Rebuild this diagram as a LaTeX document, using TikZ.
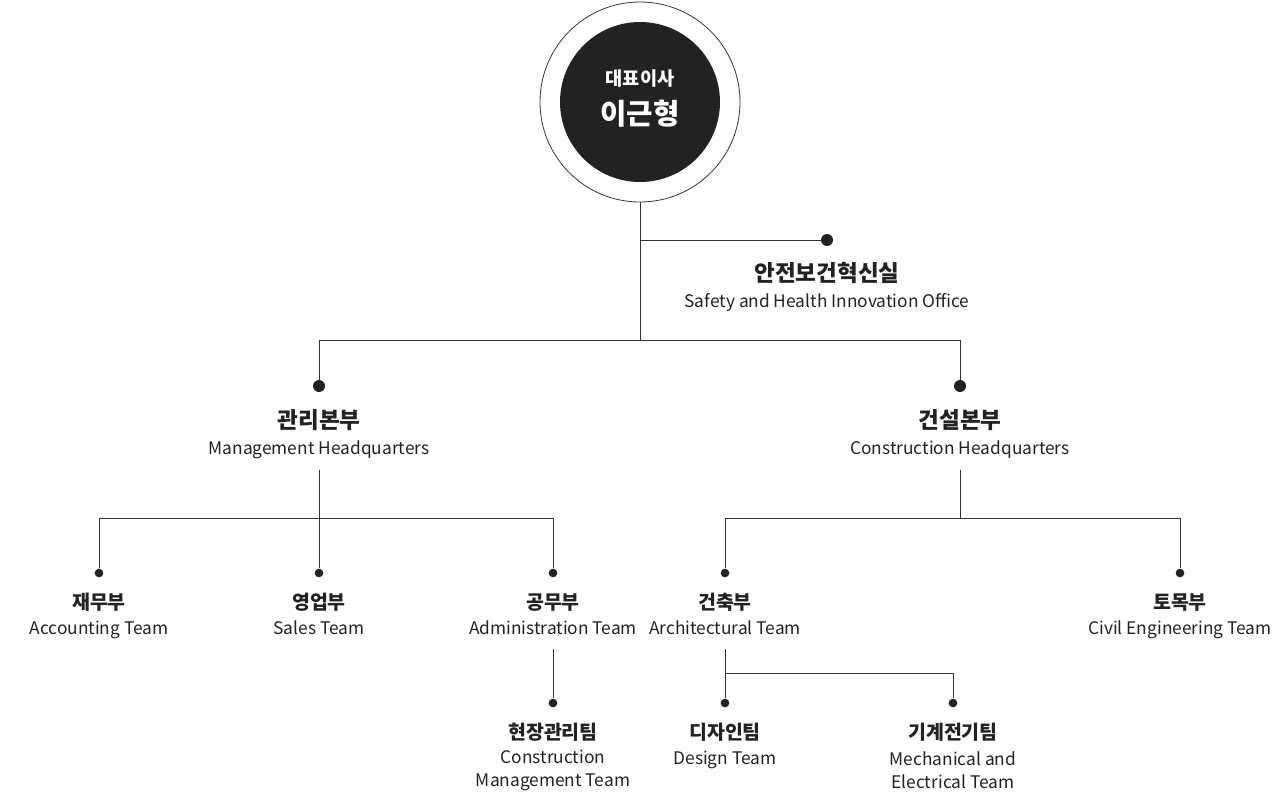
\documentclass[tikz,border=0pt]{standalone}
\usepackage{fontspec}
\setmainfont{Noto Sans CJK KR}
\usepackage{tikz}
\usetikzlibrary{positioning}

\definecolor{ink}{HTML}{222222}
\definecolor{wire}{HTML}{333333}

\tikzset{
  link/.style={draw=wire, line width=0.75pt},
  bigdot/.style={circle, fill=ink, inner sep=0pt, minimum size=9pt},
  dot/.style={circle, fill=ink, inner sep=0pt, minimum size=6.5pt},
  hq/.style={text=ink, font=\fontsize{16.9}{19}\selectfont\bfseries, inner sep=0pt, text height=0.8em, text depth=0.1em},
  hqen/.style={text=ink, font=\fontsize{13}{15}\selectfont, inner sep=0pt, text height=0.75em, text depth=0.2em},
  team/.style={text=ink, font=\fontsize{14.6}{17}\selectfont\bfseries, inner sep=0pt, text height=0.8em, text depth=0.1em},
  teamen/.style={text=ink, font=\fontsize{13}{15}\selectfont, inner sep=0pt, text height=0.75em, text depth=0.2em},
  teamen2/.style={text=ink, font=\fontsize{13}{17.25}\selectfont, inner sep=0pt, align=center},
}

\begin{document}
\begin{tikzpicture}[x=0.75pt,y=-0.75pt]
\useasboundingbox (0,0) rectangle (1280,793);

% CEO
\node (ceo) [circle, draw=wire, line width=0.6pt, minimum size=150pt, inner sep=0pt] at (640,102) {};
\node (ceo-in) [circle, fill=ink, minimum size=120pt, inner sep=0pt] at (640,102) {};
\node (ceo-title) [text=white, font=\fontsize{14}{16}\selectfont\bfseries] at (640,79) {대표이사};
\node (ceo-name) [text=white, font=\fontsize{21.5}{24}\selectfont\bfseries] at (640,114) {이근형};

% junctions
\coordinate (j-top) at (640,340);
\coordinate (j-safety) at (640,240);
\coordinate (j-mgmt) at (319,340);
\coordinate (j-cons) at (960,340);

% safety office
\node (d-safety) [bigdot] at (827,240) {};
\node (safety) [hq, below of=d-safety, node distance=27.75pt] {안전보건혁신실};
\node (safety-en) [hqen, below of=safety, node distance=20.25pt] {Safety and Health Innovation Office};

% headquarters
\node (d-mgmt) [bigdot] at (319,386) {};
\node (mgmt) [hq, below of=d-mgmt, node distance=28.5pt] {관리본부};
\node (mgmt-en) [hqen, below of=mgmt, node distance=20.25pt] {Management Headquarters};

\node (d-cons) [bigdot] at (960,386) {};
\node (cons) [hq, below of=d-cons, node distance=28.5pt] {건설본부};
\node (cons-en) [hqen, below of=cons, node distance=20.25pt] {Construction Headquarters};

\path[link] (ceo.south) -- (j-top);
\path[link] (j-safety) -- (d-safety);
\path[link] (j-mgmt) -- (j-cons);
\path[link] (j-mgmt) -- (d-mgmt);
\path[link] (j-cons) -- (d-cons);

% management teams
\coordinate (s-mgmt) at (319,470);
\coordinate (j-acc) at (99,518);
\coordinate (j-adm) at (553,518);

\node (d-acc) [dot] at (99,573) {};
\node (acc) [team, below of=d-acc, node distance=24pt] {재무부};
\node (acc-en) [teamen, below of=acc, node distance=19.5pt] {Accounting Team};

\node (d-sales) [dot] at (319,573) {};
\node (sales) [team, below of=d-sales, node distance=24pt] {영업부};
\node (sales-en) [teamen, below of=sales, node distance=19.5pt] {Sales Team};

\node (d-adm) [dot] at (553,573) {};
\node (adm) [team, below of=d-adm, node distance=24pt] {공무부};
\node (adm-en) [teamen, below of=adm, node distance=19.5pt] {Administration Team};

\path[link] (s-mgmt) -- (d-sales);
\path[link] (j-acc) -- (j-adm);
\path[link] (j-acc) -- (d-acc);
\path[link] (j-adm) -- (d-adm);

% site management
\coordinate (s-adm) at (553,649);
\node (d-site) [dot] at (553,703) {};
\node (site) [team, below of=d-site, node distance=24pt] {현장관리팀};
\node (site-en) [teamen2, below of=site, node distance=26.4pt] {Construction\\Management Team};
\path[link] (s-adm) -- (d-site);

% construction teams
\coordinate (s-cons) at (960,470);
\coordinate (j-cons2) at (960,518);
\coordinate (j-arch) at (725,518);
\coordinate (j-civil) at (1180,518);

\node (d-arch) [dot] at (725,573) {};
\node (arch) [team, below of=d-arch, node distance=24pt] {건축부};
\node (arch-en) [teamen, below of=arch, node distance=19.5pt] {Architectural Team};

\node (d-civil) [dot] at (1180,573) {};
\node (civil) [team, below of=d-civil, node distance=24pt] {토목부};
\node (civil-en) [teamen, below of=civil, node distance=19.5pt] {Civil Engineering Team};

\path[link] (s-cons) -- (j-cons2);
\path[link] (j-arch) -- (j-civil);
\path[link] (j-arch) -- (d-arch);
\path[link] (j-civil) -- (d-civil);

% architecture sub teams
\coordinate (s-arch) at (725,649);
\coordinate (j-des) at (725,673);
\coordinate (j-mech) at (953,673);

\node (d-des) [dot] at (725,703) {};
\node (des) [team, below of=d-des, node distance=24pt] {디자인팀};
\node (des-en) [teamen, below of=des, node distance=19.5pt] {Design Team};

\node (d-mech) [dot] at (953,703) {};
\node (mech) [team, below of=d-mech, node distance=24pt] {기계전기팀};
\node (mech-en) [teamen2, below of=mech, node distance=26.4pt] {Mechanical and\\Electrical Team};

\path[link] (s-arch) -- (d-des);
\path[link] (j-des) -- (j-mech);
\path[link] (j-mech) -- (d-mech);
\end{tikzpicture}
\end{document}
